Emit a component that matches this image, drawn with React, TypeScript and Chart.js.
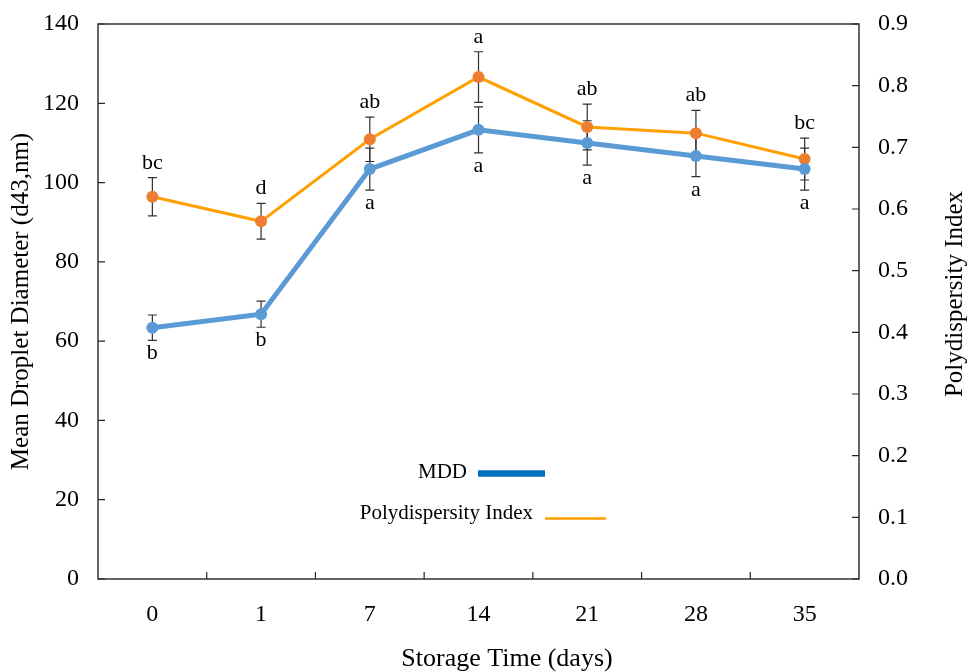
import React, { useEffect, useRef } from "react";
import { Chart, registerables } from "chart.js";

Chart.register(...registerables);

const categories = ["0", "1", "7", "14", "21", "28", "35"];
const mddValues = [63.4, 66.8, 103.4, 113.3, 110.0, 106.7, 103.4];
const mddErrors = [3.2, 3.3, 5.3, 5.8, 5.6, 5.2, 5.3];
const pdiValues = [0.62, 0.58, 0.713, 0.814, 0.733, 0.723, 0.681];
const pdiErrors = [0.031, 0.029, 0.036, 0.041, 0.037, 0.037, 0.034];
const mddLetters = ["b", "b", "a", "a", "a", "a", "a"];
const pdiLetters = ["bc", "d", "ab", "a", "ab", "ab", "bc"];
const leftTicks = [0, 20, 40, 60, 80, 100, 120, 140];
const rightTicks = [0, 0.1, 0.2, 0.3, 0.4, 0.5, 0.6, 0.7, 0.8, 0.9];

const FONT = '"Liberation Serif", "Times New Roman", serif';
const AXIS_COLOR = "#262626";

const decorPlugin = {
  id: "decor",
  beforeDatasetsDraw(chart: any) {
    const ctx = chart.ctx;
    const x = chart.scales.x;
    const yL = chart.scales.y;
    const yR = chart.scales.y1;
    ctx.save();
    ctx.strokeStyle = "#303030";
    ctx.lineWidth = 1.2;
    const bar = (px: number, top: number, bot: number) => {
      ctx.beginPath();
      ctx.moveTo(px, top);
      ctx.lineTo(px, bot);
      ctx.moveTo(px - 4.5, top);
      ctx.lineTo(px + 4.5, top);
      ctx.moveTo(px - 4.5, bot);
      ctx.lineTo(px + 4.5, bot);
      ctx.stroke();
    };
    categories.forEach((_, i) => {
      const px = x.getPixelForValue(i);
      bar(px, yL.getPixelForValue(mddValues[i] + mddErrors[i]), yL.getPixelForValue(mddValues[i] - mddErrors[i]));
      bar(px, yR.getPixelForValue(pdiValues[i] + pdiErrors[i]), yR.getPixelForValue(pdiValues[i] - pdiErrors[i]));
    });
    ctx.restore();
  },
  afterDatasetsDraw(chart: any) {
    const ctx = chart.ctx;
    const { left, right, top, bottom } = chart.chartArea;
    const x = chart.scales.x;
    const yL = chart.scales.y;
    const yR = chart.scales.y1;
    ctx.save();
    // frame
    ctx.strokeStyle = AXIS_COLOR;
    ctx.lineWidth = 1.4;
    ctx.strokeRect(left, top, right - left, bottom - top);
    // inward tick marks
    ctx.lineWidth = 1.2;
    ctx.beginPath();
    leftTicks.forEach((v) => {
      const py = yL.getPixelForValue(v);
      ctx.moveTo(left, py);
      ctx.lineTo(left + 7, py);
    });
    rightTicks.forEach((v) => {
      const py = yR.getPixelForValue(v);
      ctx.moveTo(right, py);
      ctx.lineTo(right - 7, py);
    });
    for (let i = 1; i < categories.length; i++) {
      const px = (x.getPixelForValue(i - 1) + x.getPixelForValue(i)) / 2;
      ctx.moveTo(px, bottom);
      ctx.lineTo(px, bottom - 7);
    }
    ctx.stroke();

    // significance letters
    ctx.fillStyle = "#000";
    ctx.font = `22px ${FONT}`;
    ctx.textAlign = "center";
    ctx.textBaseline = "alphabetic";
    categories.forEach((_, i) => {
      const px = x.getPixelForValue(i);
      const tp = yR.getPixelForValue(pdiValues[i] + pdiErrors[i]);
      ctx.fillText(pdiLetters[i], px, tp - 9);
      const bp = yL.getPixelForValue(mddValues[i] - mddErrors[i]);
      ctx.fillText(mddLetters[i], px, bp + 19);
    });

    // legend
    ctx.font = `21px ${FONT}`;
    ctx.textAlign = "right";
    ctx.textBaseline = "middle";
    ctx.fillText(chart.data.datasets[0].label, 467, 472);
    ctx.fillText(chart.data.datasets[1].label, 533, 513);
    ctx.lineCap = "butt";
    ctx.strokeStyle = "#0070C0";
    ctx.lineWidth = 6.5;
    ctx.beginPath();
    ctx.moveTo(478, 473.5);
    ctx.lineTo(545, 473.5);
    ctx.stroke();
    ctx.strokeStyle = "#FF9C00";
    ctx.lineWidth = 2.5;
    ctx.beginPath();
    ctx.moveTo(545, 518.5);
    ctx.lineTo(606, 518.5);
    ctx.stroke();

    // x axis title (slightly right of centre, as in the reference)
    ctx.font = `26px ${FONT}`;
    ctx.textAlign = "center";
    ctx.textBaseline = "middle";
    ctx.fillText("Storage Time (days)", 507, 659);

    // right axis title (rotated like the left one)
    ctx.translate(955, 294);
    ctx.rotate(-Math.PI / 2);
    ctx.font = `25px ${FONT}`;
    ctx.textAlign = "center";
    ctx.textBaseline = "middle";
    ctx.fillText("Polydispersity Index", 0, 0);
    ctx.restore();
  },
};

const noPad = (s: any) => {
  s.paddingTop = 0;
  s.paddingBottom = 0;
  s.paddingLeft = 0;
  s.paddingRight = 0;
};

export default function App() {
  const canvasRef = useRef<HTMLCanvasElement | null>(null);

  useEffect(() => {
    if (!canvasRef.current) return;
    const chart = new Chart(canvasRef.current, {
      type: "line",
      data: {
        labels: categories,
        datasets: [
          {
            label: "MDD",
            data: mddValues,
            yAxisID: "y",
            borderColor: "#5B9BD5",
            backgroundColor: "#5B9BD5",
            borderWidth: 5,
            pointRadius: 6,
            pointBorderWidth: 0,
            pointBackgroundColor: "#5B9BD5",
            tension: 0,
          },
          {
            label: "Polydispersity Index",
            data: pdiValues,
            yAxisID: "y1",
            borderColor: "#FFA000",
            backgroundColor: "#ED7D31",
            borderWidth: 3,
            pointRadius: 6,
            pointBorderWidth: 0,
            pointBackgroundColor: "#ED7D31",
            tension: 0,
          },
        ],
      },
      options: {
        animation: false,
        responsive: false,
        layout: { padding: { top: 24, left: 0, right: 0, bottom: 0 } },
        plugins: {
          legend: { display: false },
          tooltip: { enabled: false },
        },
        scales: {
          x: {
            type: "category",
            offset: true,
            grid: { display: false, drawTicks: false },
            border: { display: false },
            ticks: { color: "#000", font: { family: FONT, size: 24 }, padding: 21 },
            title: { display: false },
            afterFit: (s: any) => {
              s.height = 93;
              noPad(s);
            },
          },
          y: {
            type: "linear",
            position: "left",
            min: 0,
            max: 140,
            grid: { display: false, drawTicks: false },
            border: { display: false },
            ticks: {
              stepSize: 20,
              color: "#000",
              font: { family: FONT, size: 24 },
              padding: 19,
            },
            title: {
              display: true,
              text: "Mean Droplet Diameter (d43,nm)",
              color: "#000",
              font: { family: FONT, size: 25, lineHeight: 1 },
              padding: { top: 9, bottom: 0 },
            },
            afterFit: (s: any) => {
              s.width = 98;
              noPad(s);
            },
          },
          y1: {
            type: "linear",
            position: "right",
            min: 0,
            max: 0.9,
            grid: { display: false, drawTicks: false },
            border: { display: false },
            ticks: {
              stepSize: 0.1,
              color: "#000",
              font: { family: FONT, size: 24 },
              padding: 19,
              callback: (v: any) => Number(v).toFixed(1),
            },
            afterFit: (s: any) => {
              s.width = 108;
              noPad(s);
            },
          },
        },
      },
      plugins: [decorPlugin],
    });
    return () => chart.destroy();
  }, []);

  return (
    <div style={{ position: "fixed", left: 0, top: 0, width: 967, height: 672, background: "#fff" }}>
      <canvas ref={canvasRef} width={967} height={672} style={{ display: "block", width: 967, height: 672 }} />
    </div>
  );
}
